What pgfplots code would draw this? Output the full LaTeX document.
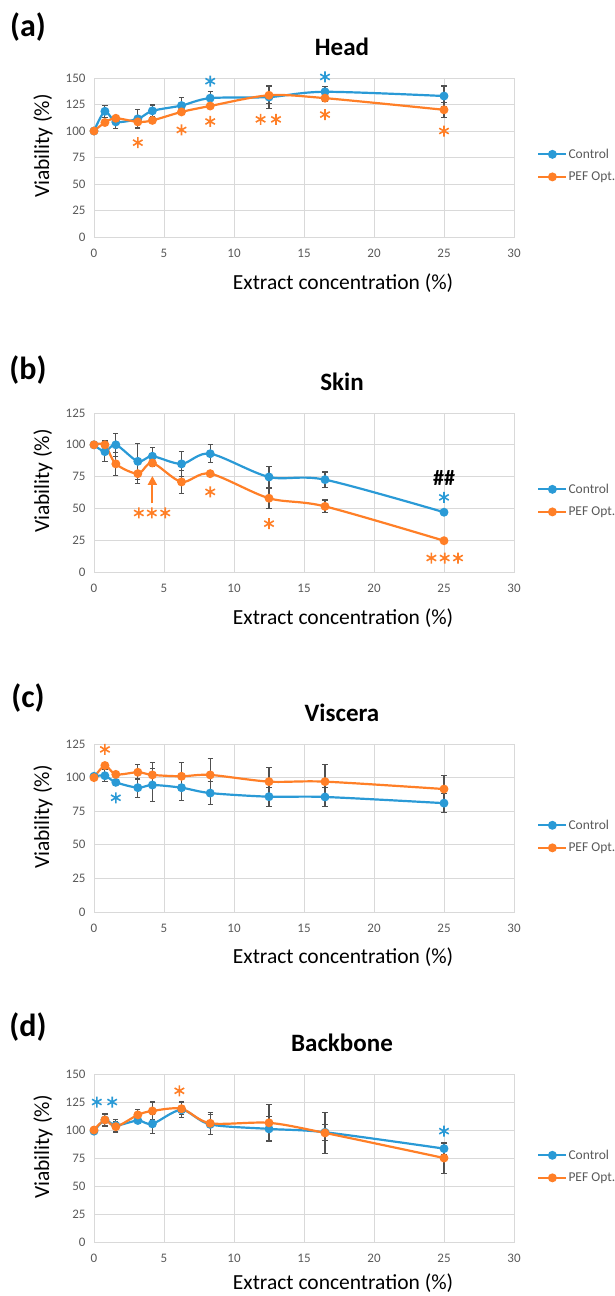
\documentclass[border=0pt]{standalone}
\usepackage{fontspec}
\setmainfont{Carlito}
\usepackage{pgfplots}
\usepackage{pgfplotstable}
\pgfplotsset{compat=1.18}
\usetikzlibrary{arrows.meta}

\definecolor{cblue}{HTML}{2A9AD6}
\definecolor{corange}{HTML}{FF7F27}
\definecolor{errgray}{HTML}{505050}
\definecolor{gridgray}{HTML}{D9D9D9}
\definecolor{ticklab}{HTML}{595959}

% Head
\pgfplotstableread{
x y e
0 100 0
0.78 118.6 5.5
1.56 108.6 6
3.13 111.5 9
4.17 119 5.5
6.25 124 7.5
8.3 131 6.5
12.5 132 11
16.5 137 5
25 133 9.5
}\headC
\pgfplotstableread{
x y e
0 100 0
0.78 108 2
1.56 112 3
3.13 108.6 5
4.17 110 2
6.25 118 2
8.3 123.6 2
12.5 133.7 8
16.5 131 3
25 120 7
}\headP
% Skin
\pgfplotstableread{
x y e
0 100 0
0.78 94.6 8
1.56 100 9
3.13 87 14
4.17 91 7
6.25 85 10
8.3 93 7
12.5 74.7 8
16.5 72.6 6
25 47 2
}\skinC
\pgfplotstableread{
x y e
0 100 0
0.78 100 3.5
1.56 85 9
3.13 77.3 8
4.17 85.7 3
6.25 70.8 9
8.3 77.3 2
12.5 58 8
16.5 51.6 5
25 24.6 1
}\skinP
% Viscera
\pgfplotstableread{
x y e
0 101 0
0.78 101.4 4.5
1.56 96.5 2
3.13 92.5 7
4.17 94.5 12
6.25 92.5 9.5
8.3 88.5 8.5
12.5 85.8 7
16.5 85.6 7
25 81 7
}\visC
\pgfplotstableread{
x y e
0 100 0
0.78 109 2
1.56 102.4 1
3.13 104 5.5
4.17 102 9.5
6.25 101 10
8.3 102 12
12.5 97 10.5
16.5 97 13
25 91.5 10
}\visP
% Backbone
\pgfplotstableread{
x y e
0 99 0
0.78 109 6
1.56 104 5
3.13 108.5 3
4.17 105.5 8.5
6.25 118 7
8.3 105 9
12.5 101 11
16.5 98 7
25 83.4 5
}\bbC
\pgfplotstableread{
x y e
0 100 0
0.78 109 5
1.56 103 5
3.13 113.5 4.5
4.17 117 8
6.25 119 5.5
8.3 106 10
12.5 106.4 16
16.5 97.4 18
25 75 14
}\bbP

\pgfplotsset{
 panel/.style={
  scale only axis, width=420pt,
  xmin=0, xmax=30, ymin=0,
  xtick={0,5,...,30},
  grid=major, grid style={gridgray, line width=0.8pt},
  axis line style={gridgray, line width=0.8pt},
  major tick length=0pt,
  tick label style={font=\fontsize{13}{15}\selectfont, text=ticklab},
  /pgf/number format/assume math mode=true,
  xticklabel style={anchor=center, yshift=-16pt},
  yticklabel style={anchor=east, xshift=-5pt},
  label style={font=\fontsize{21.5}{24}\selectfont},
  xlabel={Extract concentration (\%)},
  ylabel={Viability (\%)},
  xlabel style={anchor=center},
  ylabel style={anchor=center},
  clip=false,
  legend style={at={(axis description cs:1.055,0.45)}, anchor=west, draw=none, fill=none,
     font=\fontsize{13.5}{16}\selectfont, text=ticklab, row sep=8pt, inner xsep=0pt, inner ysep=0pt,
     nodes={inner xsep=1pt}},
  legend cell align=left,
  legend image code/.code={\draw[mark repeat=2,mark phase=2,##1] plot coordinates {(0pt,0pt) (14pt,0pt) (28pt,0pt)};},
 },
 ser/.style={#1, line width=2.2pt, smooth, tension=0.5, mark=*, mark size=3.3pt,
   mark options={solid, fill=#1, draw=#1},
   error bars/.cd, y dir=both, y explicit,
   error bar style={errgray, line width=1.1pt},
   error mark options={rotate=90, errgray, mark size=2.6pt, line width=1.1pt}},
 ast/.style={only marks, mark=asterisk, mark size=5.5pt, #1, line width=1.6pt, forget plot},
}

\begin{document}
\begin{tikzpicture}
\useasboundingbox (0pt,0pt) rectangle (615pt,-1296pt);

% ---------- (a) Head
\node[font=\fontsize{32}{36}\selectfont\bfseries] at (28pt,-27pt) {(a)};
\node[font=\fontsize{25}{28}\selectfont\bfseries] at (342pt,-47pt) {Head};
\begin{axis}[panel, at={(94pt,-237pt)}, anchor=south west, height=159pt,
  ymax=150, ytick={0,25,...,150},
  xlabel style={at={(axis description cs:0.593,-0.289)}},
  ylabel style={at={(axis description cs:-0.1214,0.572)}}]
\addplot[ser=cblue] table[x=x,y=y,y error=e]{\headC};
\addlegendentry{Control}
\addplot[ser=corange] table[x=x,y=y,y error=e]{\headP};
\addlegendentry{PEF Opt.}
\addplot[ast=cblue] coordinates {(8.3,147) (16.5,151)};
\addplot[ast=corange] coordinates {(3.13,89) (6.25,101) (8.3,109) (11.9,111) (13.0,111) (16.5,115.5) (25,100)};
\end{axis}

% ---------- (b) Skin
\node[font=\fontsize{32}{36}\selectfont\bfseries] at (28pt,-370pt) {(b)};
\node[font=\fontsize{25}{28}\selectfont\bfseries] at (342pt,-382pt) {Skin};
\begin{axis}[panel, at={(94pt,-572pt)}, anchor=south west, height=159pt,
  ymax=125, ytick={0,25,...,125},
  xlabel style={at={(axis description cs:0.593,-0.289)}},
  ylabel style={at={(axis description cs:-0.1214,0.572)}}]
\addplot[ser=cblue] table[x=x,y=y,y error=e]{\skinC};
\addlegendentry{Control}
\addplot[ser=corange] table[x=x,y=y,y error=e]{\skinP};
\addlegendentry{PEF Opt.}
\addplot[ast=cblue] coordinates {(25,58.7)};
\addplot[ast=corange] coordinates {(3.2,46.4) (4.13,46.4) (5.09,46.4) (8.3,63) (12.5,38) (24.1,11) (25.05,11) (26.0,11)};
\draw[corange, line width=2pt, -{Triangle[length=9pt,width=9pt]}] (axis cs:4.17,54) -- (axis cs:4.17,75.5);
\node[font=\fontsize{22}{24}\selectfont\bfseries] at (axis cs:25,74) {\#\#};
\end{axis}

% ---------- (c) Viscera
\node[font=\fontsize{32}{36}\selectfont\bfseries] at (28pt,-698pt) {(c)};
\node[font=\fontsize{25}{28}\selectfont\bfseries] at (342pt,-713pt) {Viscera};
\begin{axis}[panel, at={(94pt,-912pt)}, anchor=south west, height=168pt,
  ymax=125, ytick={0,25,...,125},
  xlabel style={at={(axis description cs:0.593,-0.271)}},
  ylabel style={at={(axis description cs:-0.1214,0.565)}}]
\addplot[ser=cblue] table[x=x,y=y,y error=e]{\visC};
\addlegendentry{Control}
\addplot[ser=corange] table[x=x,y=y,y error=e]{\visP};
\addlegendentry{PEF Opt.}
\addplot[ast=cblue] coordinates {(1.56,85)};
\addplot[ast=corange] coordinates {(0.78,121)};
\end{axis}

% ---------- (d) Backbone
\node[font=\fontsize{32}{36}\selectfont\bfseries] at (28pt,-1027pt) {(d)};
\node[font=\fontsize{25}{28}\selectfont\bfseries] at (342pt,-1043pt) {Backbone};
\begin{axis}[panel, at={(94pt,-1242pt)}, anchor=south west, height=168pt,
  ymax=150, ytick={0,25,...,150},
  xlabel style={at={(axis description cs:0.593,-0.245)}},
  ylabel style={at={(axis description cs:-0.1214,0.565)}}]
\addplot[ser=cblue] table[x=x,y=y,y error=e]{\bbC};
\addlegendentry{Control}
\addplot[ser=corange] table[x=x,y=y,y error=e]{\bbP};
\addlegendentry{PEF Opt.}
\addplot[ast=cblue] coordinates {(0.2,125) (1.3,125) (25,99)};
\addplot[ast=corange] coordinates {(6.1,135)};
\end{axis}
\end{tikzpicture}
\end{document}
